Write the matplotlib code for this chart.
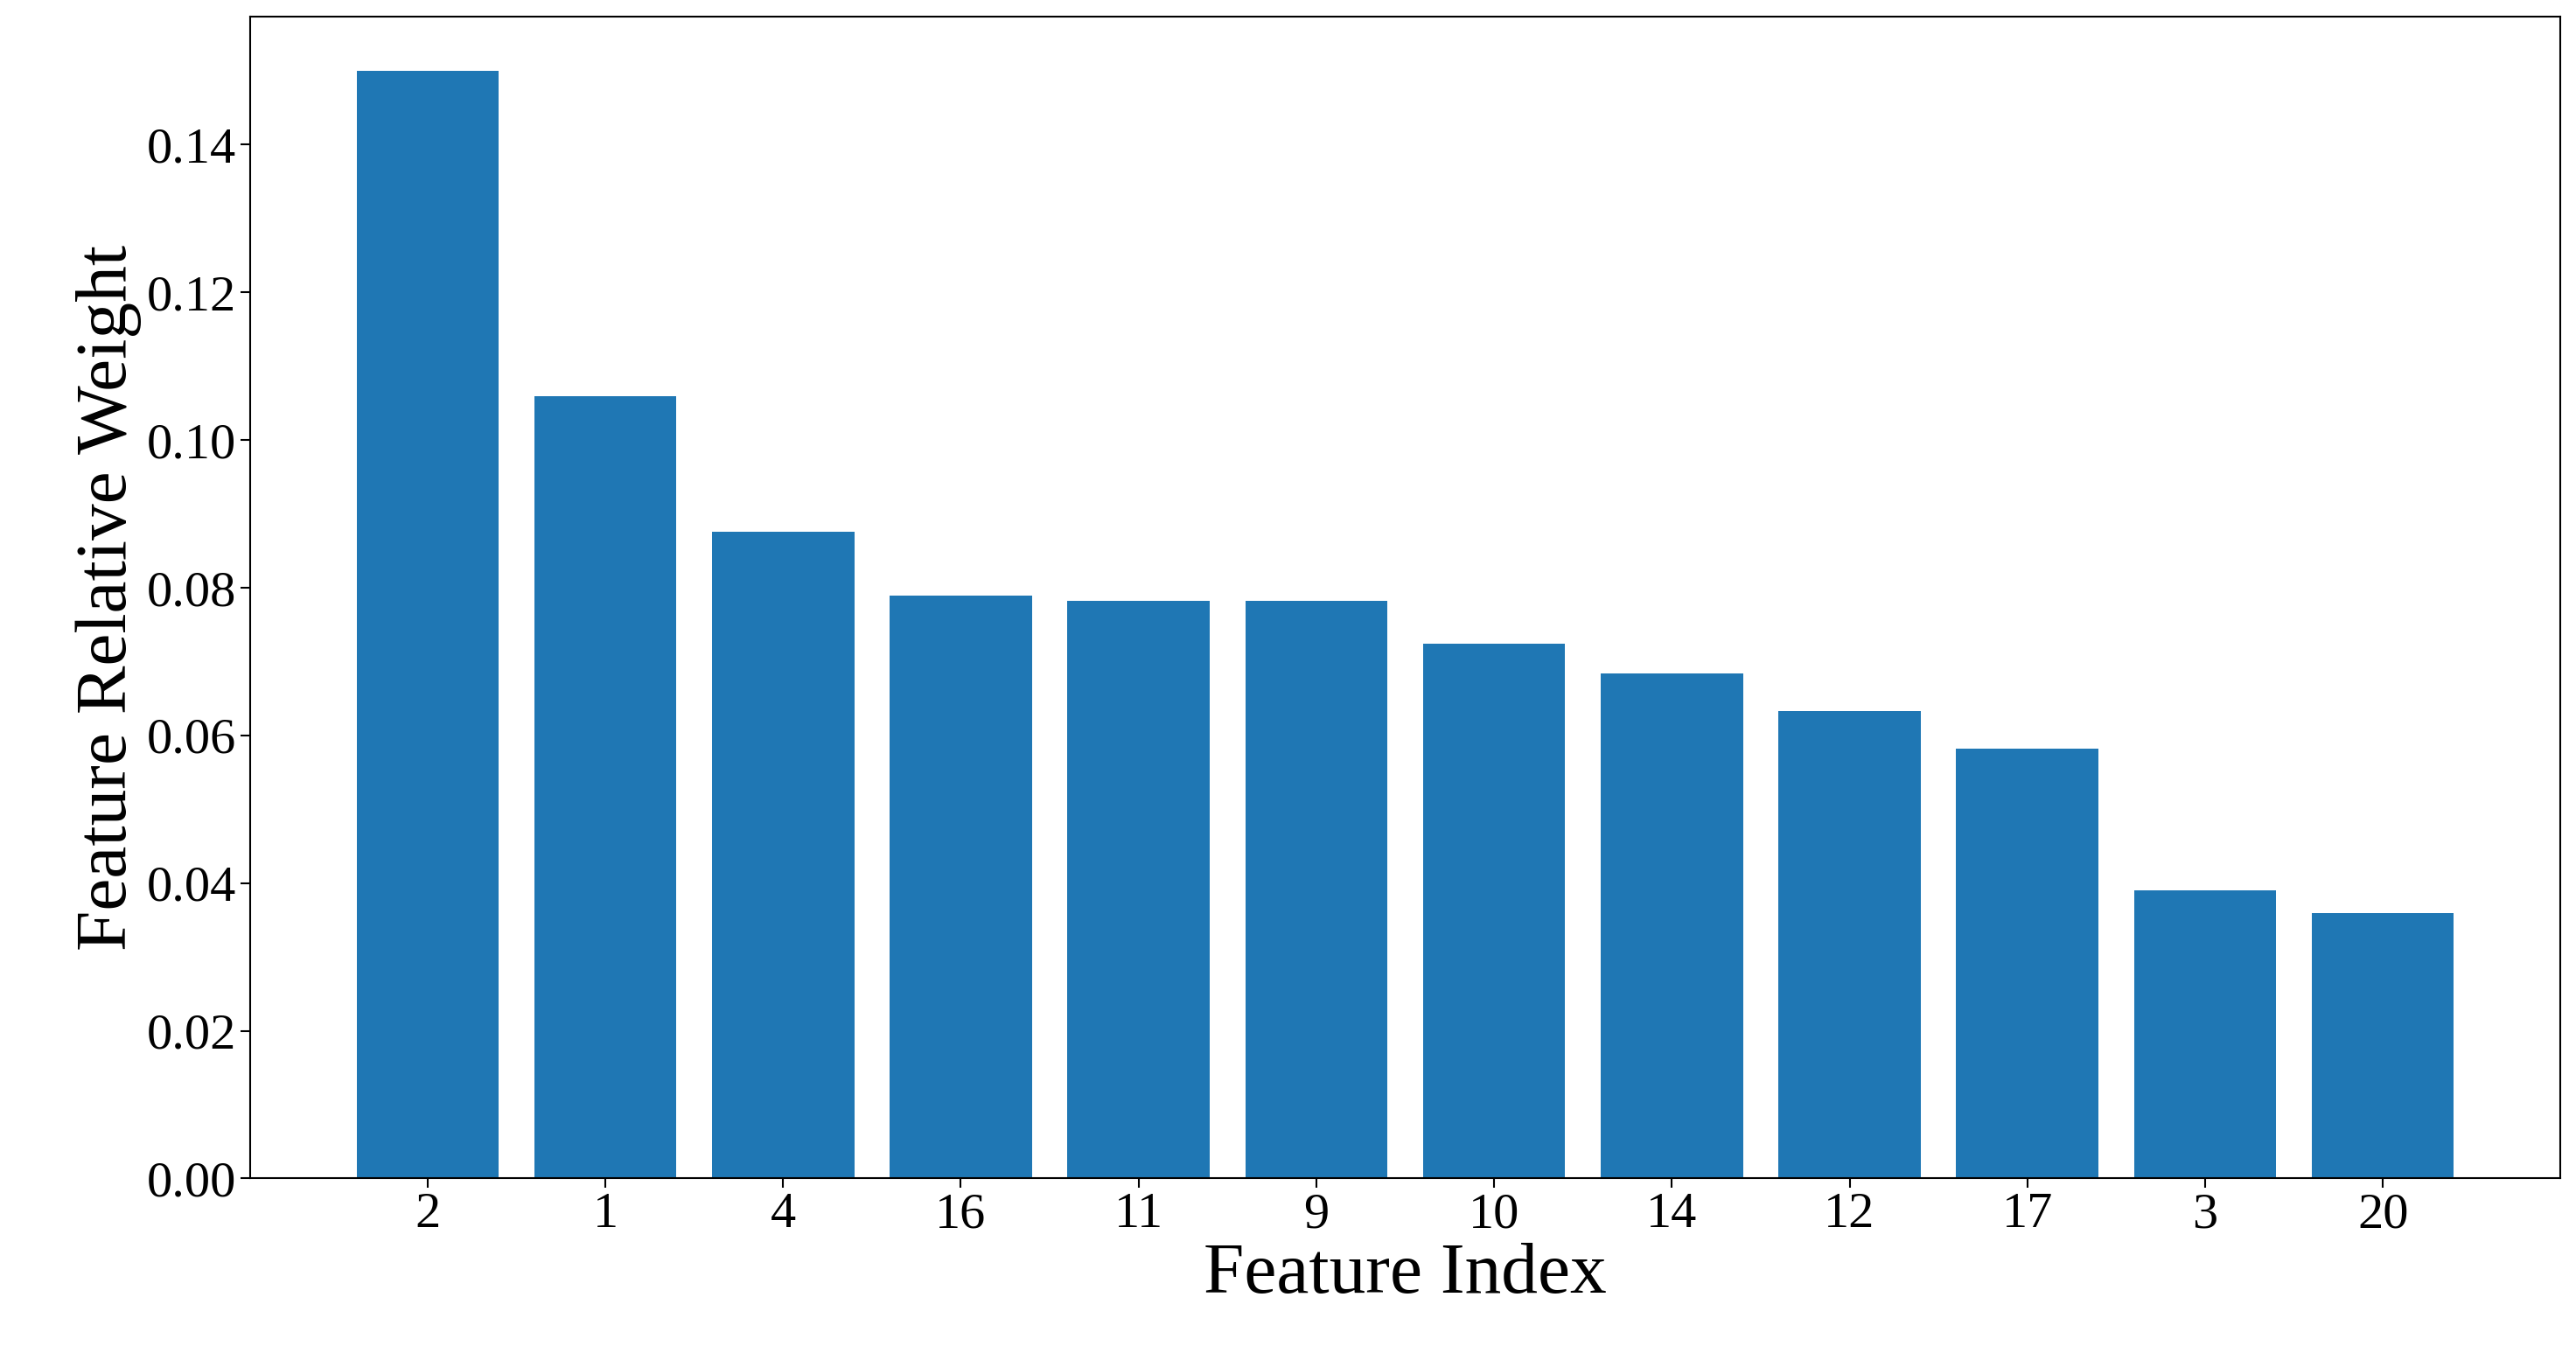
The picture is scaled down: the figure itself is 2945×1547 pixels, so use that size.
import matplotlib.pyplot as plt

features = ['2', '1', '4', '16', '11', '9', '10', '14', '12', '17', '3', '20']
weights = [0.150, 0.1059, 0.0876, 0.0789, 0.0782, 0.0782, 0.0724, 0.0684, 0.0633, 0.0582, 0.0390, 0.0359]

plt.rcParams['font.family'] = ['Liberation Serif', 'DejaVu Serif']

fig = plt.figure(figsize=(29.45, 15.47), dpi=100)
ax = fig.add_axes([0.097, 0.129, 0.897, 0.859])
ax.bar(range(len(features)), weights, width=0.8, color='#1f77b4')
ax.set_xticks(range(len(features)))
ax.set_xticklabels(features)
ax.set_xlim(-1, len(features))
ax.set_ylim(0, 0.1574)
ax.set_yticks([0.0, 0.02, 0.04, 0.06, 0.08, 0.10, 0.12, 0.14])
ax.set_yticklabels(['%.2f' % v for v in ax.get_yticks()])
ax.tick_params(labelsize=42, length=8, width=1.5)
ax.set_xlabel('Feature Index', fontsize=60)
ax.set_ylabel('Feature Relative Weight', fontsize=60)
for s in ax.spines.values():
    s.set_linewidth(1.5)
fig.savefig('out.png', dpi=100)
